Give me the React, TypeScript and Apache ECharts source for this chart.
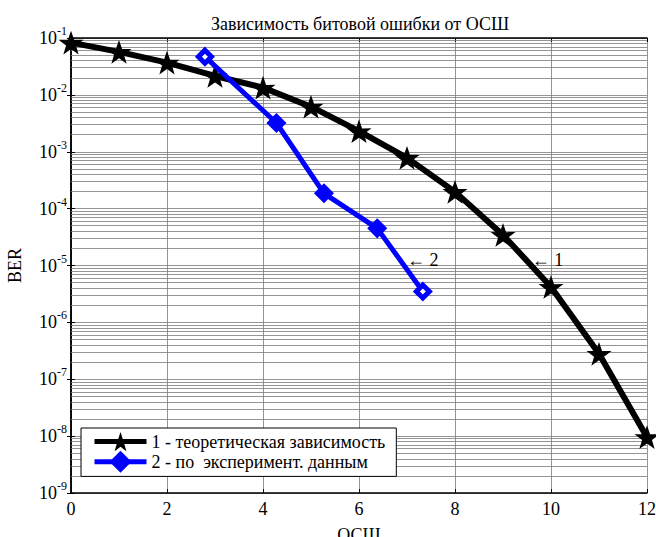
import React, { useEffect, useRef } from "react";
import * as echarts from "echarts";

const TITLE = "Зависимость битовой ошибки от ОСШ";
const X_NAME = "ОСШ";
const Y_NAME = "BER";

const SNR_THEORY = [0, 1, 2, 3, 4, 5, 6, 7, 8, 9, 10, 11, 12];
const BER_THEORY = [8.3e-2, 5.7e-2, 3.7e-2, 2.15e-2, 1.34e-2, 6.2e-3, 2.3e-3, 7.8e-4, 1.97e-4, 3.45e-5, 4.2e-6, 2.8e-7, 9.6e-9];

const SNR_EXP = [2.79, 4.28, 5.27, 6.38, 7.33];
const BER_EXP = [4.7e-2, 3.2e-3, 1.86e-4, 4.5e-5, 3.5e-6];

const SERIES_NAMES = ["1 - теоретическая зависимость", "2 - по  эксперимент. данным"];

const DECADE_EXPONENTS = [-9, -8, -7, -6, -5, -4, -3, -2];
const MINOR_MULTIPLIERS = [2, 3, 4, 5, 6, 7, 8, 9];

const ANNOTATIONS = [
  { text: "← 2", x: 7.0, y: 1.26e-5 },
  { text: "← 1", x: 9.6, y: 1.26e-5 },
];

const FONT = "Liberation Serif, Times New Roman, serif";
const STAR = "path://M50,0 L61.8,35.1 L98.1,34.5 L69.1,56.7 L79.4,91.5 L50,70.7 L20.6,91.5 L30.9,56.7 L1.9,34.5 L38.2,35.1 Z";

export default function App() {
  const ref = useRef<HTMLDivElement>(null);
  useEffect(() => {
    if (!ref.current) return;
    const chart = echarts.init(ref.current, undefined, { renderer: "svg" });
    const minorLines: any[] = [];
    DECADE_EXPONENTS.forEach((e) => {
      MINOR_MULTIPLIERS.forEach((m) => minorLines.push({ yAxis: m * Math.pow(10, e) }));
    });
    const gridColor = "#7a7a7a";
    const annLabel = (a: { text: string; x: number; y: number }) => ({
      coord: [a.x, a.y],
      label: { show: true, formatter: a.text, position: "right", distance: 0, fontFamily: FONT, fontSize: 18, color: "#000" },
    });
    const option: any = {
      animation: false,
      backgroundColor: "#fff",
      title: {
        text: TITLE,
        left: 355,
        top: 10,
        textAlign: "center",
        textStyle: { fontFamily: FONT, fontSize: 18, fontWeight: "normal", color: "#000" },
      },
      grid: { left: 71, top: 38, width: 576, height: 455, outerBoundsMode: "none", containLabel: false },
      legend: {
        left: 81,
        top: 428,
        orient: "vertical",
        itemWidth: 52,
        itemHeight: 24,
        itemGap: 0,
        padding: [4, 11, 4, 11],
        backgroundColor: "#fff",
        borderColor: "#000",
        borderWidth: 1,
        borderRadius: 0,
        lineStyle: { width: 5 },
        textStyle: { fontFamily: FONT, fontSize: 18, color: "#000" },
        data: SERIES_NAMES,
      },
      xAxis: [
        {
          type: "value",
          min: 0,
          max: 12,
          interval: 2,
          name: X_NAME,
          nameLocation: "middle",
          nameGap: 33,
          nameTextStyle: { fontFamily: FONT, fontSize: 18, color: "#000" },
          axisLine: { lineStyle: { color: "#000", width: 1.5 } },
          axisTick: { inside: true, length: 4, lineStyle: { color: "#000" } },
          axisLabel: { fontFamily: FONT, fontSize: 18, color: "#000", margin: 7 },
          splitLine: { show: true, lineStyle: { color: gridColor, width: 0.8 } },
        },
        {
          type: "value",
          position: "top",
          min: 0,
          max: 12,
          interval: 2,
          axisLine: { show: true, lineStyle: { color: "#000", width: 1.5 } },
          axisTick: { inside: true, length: 4, lineStyle: { color: "#000" } },
          axisLabel: { show: false },
          splitLine: { show: false },
        },
      ],
      yAxis: [
        {
          type: "log",
          logBase: 10,
          min: 1e-9,
          max: 1e-1,
          splitNumber: 8,
          name: Y_NAME,
          nameLocation: "middle",
          nameGap: 47,
          nameTextStyle: { fontFamily: FONT, fontSize: 18, color: "#000" },
          axisLine: { show: true, lineStyle: { color: "#000", width: 1.5 } },
          axisTick: { inside: true, length: 4, lineStyle: { color: "#000" } },
          axisLabel: {
            margin: 4,
            formatter: (v: number) => `{b|10}{s|${Math.round(Math.log10(v))}}`,
            rich: {
              b: { fontFamily: FONT, fontSize: 18, color: "#000" },
              s: { fontFamily: FONT, fontSize: 12, color: "#000", verticalAlign: "bottom", padding: [0, 0, 14, 0] },
            },
          },
          splitLine: { show: true, lineStyle: { color: gridColor, width: 0.8 } },
        },
        {
          type: "log",
          logBase: 10,
          min: 1e-9,
          max: 1e-1,
          splitNumber: 8,
          position: "right",
          axisLine: { show: true, lineStyle: { color: "#000", width: 1.5 } },
          axisTick: { inside: true, length: 4, lineStyle: { color: "#000" } },
          axisLabel: { show: false },
          splitLine: { show: false },
        },
      ],
      series: [
        {
          name: "minor-grid",
          type: "line",
          data: [],
          z: 1,
          silent: true,
          markLine: {
            silent: true,
            z: 1,
            symbol: "none",
            precision: 12,
            label: { show: false },
            lineStyle: { color: gridColor, width: 0.8, type: "solid" },
            data: minorLines,
          },
        },
        {
          name: SERIES_NAMES[0],
          type: "line",
          z: 3,
          data: SNR_THEORY.map((x, i) => [x, BER_THEORY[i]]),
          lineStyle: { color: "#000", width: 6 },
          itemStyle: { color: "#000" },
          symbol: STAR,
          symbolSize: 25,
          symbolKeepAspect: true,
          showAllSymbol: true,
          markPoint: { symbol: "circle", symbolSize: 0, data: [annLabel(ANNOTATIONS[1])] },
        },
        {
          name: SERIES_NAMES[1],
          type: "line",
          z: 4,
          data: SNR_EXP.map((x, i) => {
            const end = i === 0 || i === SNR_EXP.length - 1;
            return {
              value: [x, BER_EXP[i]],
              itemStyle: { color: end ? "#fff" : "#0000ff", borderColor: "#0000ff", borderWidth: 5 },
            };
          }),
          lineStyle: { color: "#0000ff", width: 5 },
          itemStyle: { color: "#0000ff", borderColor: "#0000ff", borderWidth: 5 },
          symbol: "diamond",
          symbolSize: 13,
          showAllSymbol: true,
          markPoint: { symbol: "circle", symbolSize: 0, data: [annLabel(ANNOTATIONS[0])] },
        },
      ],
    };
    chart.setOption(option);
    return () => chart.dispose();
  }, []);
  return <div ref={ref} style={{ position: "absolute", left: 0, top: 0, width: 656, height: 537 }} />;
}
